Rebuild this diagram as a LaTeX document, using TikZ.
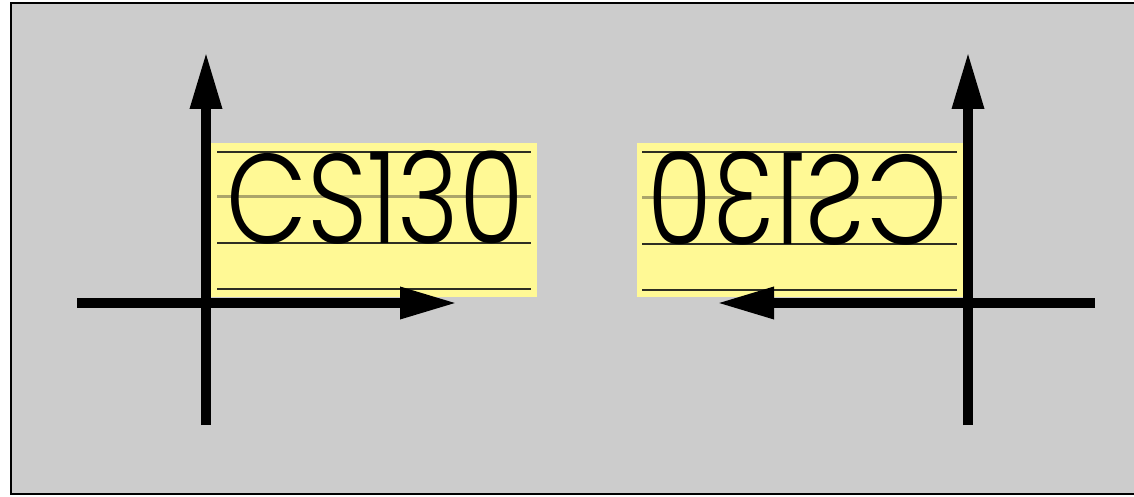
\documentclass[tikz,border=0pt]{standalone}
\usepackage{fontspec}
\usetikzlibrary{arrows.meta}
\IfFontExistsTF{Poppins Light}{\newfontfamily\lblfont{Poppins Light}}{\newfontfamily\lblfont{Poppins}}
\definecolor{bggray}{HTML}{CCCCCC}
\definecolor{noteyellow}{HTML}{FFF995}
\definecolor{ruleline}{HTML}{2E2E22}
\definecolor{midline}{HTML}{ABA56A}
\tikzset{
  axisline/.style={line width=9.5pt, draw=black, -{Triangle[length=57pt,width=30pt]}},
  notebox/.style={fill=noteyellow, draw=none},
  rule/.style={line width=2.4pt, draw=ruleline},
  midrule/.style={line width=3pt, draw=midline},
  lbl/.style={inner sep=0pt, outer sep=0pt}
}
\begin{document}
\begin{tikzpicture}[x=1pt,y=-1pt]
\useasboundingbox (0,0) rectangle (1134,497);
\fill[white] (0,0) rectangle (1134,497);
\draw[fill=bggray, line width=2pt] (11,3) rectangle (1145,494);
% left note
\fill[notebox] (211,143) rectangle (537,297);
\draw[rule] (217,152) -- (531,152);
\draw[midrule] (217,196) -- (531,196);
\draw[rule] (217,243) -- (531,243);
\draw[rule] (217,289) -- (531,289);
\node[lbl, anchor=south west] (txtL) at (226,244) {\resizebox{298pt}{93pt}{\lblfont CS130}};
% right note (mirrored)
\fill[notebox] (637,143) rectangle (963,297);
\draw[rule] (642,152) -- (957,152);
\draw[midrule] (642,197) -- (957,197);
\draw[rule] (642,244) -- (957,244);
\draw[rule] (642,290) -- (957,290);
\node[lbl, anchor=south west] (txtR) at (647,245) {\scalebox{-1}[1]{\resizebox{300pt}{93pt}{\lblfont CS130}}};
% left axes
\coordinate (lvb) at (206,425);
\coordinate (lvt) at (206,52);
\coordinate (lhl) at (77,303);
\coordinate (lhr) at (457,303);
\draw[axisline] (lvb) -- (lvt);
\draw[axisline] (lhl) -- (lhr);
% right axes
\coordinate (rvb) at (968,425);
\coordinate (rvt) at (968,52);
\coordinate (rhr) at (1095,303);
\coordinate (rhl) at (717,303);
\draw[axisline] (rvb) -- (rvt);
\draw[axisline] (rhr) -- (rhl);
\end{tikzpicture}
\end{document}
